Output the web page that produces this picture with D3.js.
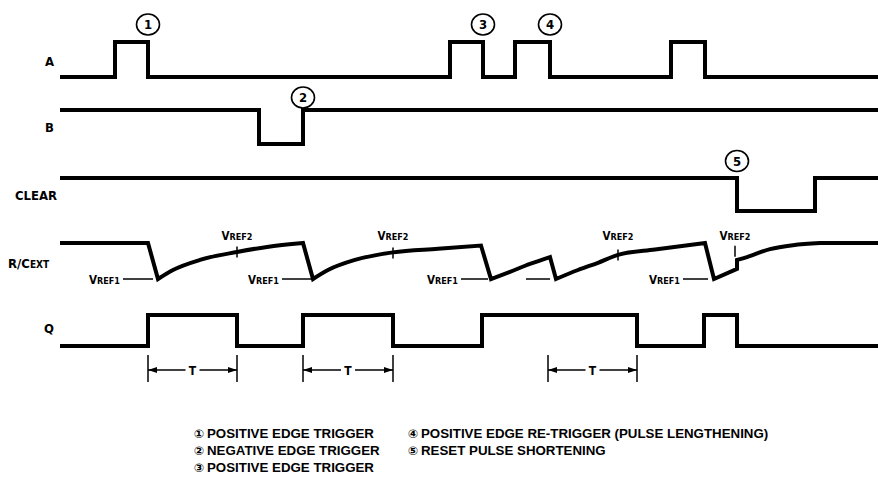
<!DOCTYPE html>
<html>
<head>
<meta charset="utf-8">
<script src="https://cdn.jsdelivr.net/npm/d3@7"></script>
<style>
  body { margin: 0; background: #fff; }
  svg { display: block; }
  .lbl { font-family: "Liberation Sans Narrow", "DejaVu Sans Condensed", sans-serif; font-weight: bold; fill: #000; }
  .leg { font-family: "Liberation Sans", Arial, sans-serif; font-weight: bold; font-size: 13.3px; fill: #000; }
</style>
</head>
<body>
<div id="chart"></div>
<script>
(function() {

  // time axis in arbitrary units, step signals as [time, level]
  const signalA = [[0, 0], [27.5, 1], [44, 0], [195, 1], [211.5, 0], [227.5, 1], [245, 0], [305.5, 1], [322.5, 0], [409, 0]];
  const signalB = [[0, 1], [99.5, 0], [121.5, 1], [409, 1]];
  const signalClear = [[0, 1], [338.5, 0], [377.5, 1], [409, 1]];
  const signalQ = [[0, 0], [44, 1], [88.5, 0], [121.5, 1], [166.5, 0], [211, 1], [288.5, 0], [322, 1], [338.5, 0], [409, 0]];

  // R/Cext voltage, 0 = Vref1 and 1 = idle level; one array per stretch
  const rcSegments = [
    [[0, 1], [44, 1]],
    [[44, 1], [49, 0]],
    [[49, 0], [56.5, 0.25], [70, 0.53], [88.5, 0.75], [103.5, 0.89], [121.5, 1]],
    [[121.5, 1], [126.5, 0]],
    [[126.5, 0], [134, 0.25], [147.5, 0.53], [166.5, 0.74], [189, 0.84], [210.5, 0.93]],
    [[210.5, 0.93], [215.5, 0]],
    [[215.5, 0], [225, 0.2], [235, 0.42], [245, 0.61]],
    [[245, 0.61], [248, 0]],
    [[248, 0], [259, 0.25], [269, 0.45], [279, 0.67], [297.5, 0.82], [322.5, 1]],
    [[322.5, 1], [327, 0]],
    [[327, 0], [338.5, 0.28]],
    [[338.5, 0.28], [338.5, 0.53]],
    [[338.5, 0.53], [343.5, 0.61], [355, 0.83], [366.5, 0.94], [380, 1]],
    [[380, 1], [409, 1]]
  ];

  // Vref1 marker lines [from, to, labelled], Vref2 ticks [time, level]
  const vref1Marks = [[31.5, 46.5, true], [111, 126, true], [200.5, 214, true], [233, 245, false], [311.5, 324, true]];
  const vref2Marks = [[88.5, 0.75], [166.5, 0.72], [279, 0.67], [337.5, 0.77]];

  // pulse width markers [start, end]
  const tMarks = [[44, 88.5], [121.5, 166.5], [244, 288.5]];

  // numbered events [number, signal, time]
  const callouts = [[1, "A", 44], [2, "B", 121.5], [3, "A", 211.5], [4, "A", 245], [5, "CLEAR", 338.5]];

  const legendCol1 = ["POSITIVE EDGE TRIGGER", "NEGATIVE EDGE TRIGGER", "POSITIVE EDGE TRIGGER"];
  const legendCol2 = ["POSITIVE EDGE RE-TRIGGER (PULSE LENGTHENING)", "RESET PULSE SHORTENING"];
  const circled = ["\u2460", "\u2461", "\u2462", "\u2463", "\u2464"];

  const width = 878, height = 482;

  const svg = d3.select("#chart")
    .append("svg")
      .attr("width", width)
      .attr("height", height);

  svg.append("rect").attr("width", width).attr("height", height).attr("fill", "#fff");

  let x = d3.scaleLinear()
      .domain([0, 409])
      .range([60, 878]);

  // one y scale per row
  let rows = {
    A: d3.scaleLinear().domain([0, 1]).range([77, 42]),
    B: d3.scaleLinear().domain([0, 1]).range([144, 110]),
    CLEAR: d3.scaleLinear().domain([0, 1]).range([211, 178]),
    Q: d3.scaleLinear().domain([0, 1]).range([346, 315])
  };
  let yRC = d3.scaleLinear().domain([0, 1]).range([279, 243]);

  function wave(data, y) {
    svg.append("path")
      .attr("d", d3.line().x(d => x(d[0])).y(d => y(d[1])).curve(d3.curveStepAfter)(data))
      .attr("fill", "none")
      .attr("stroke", "#000")
      .attr("stroke-width", 4);
  }

  wave(signalA, rows.A);
  wave(signalB, rows.B);
  wave(signalClear, rows.CLEAR);
  wave(signalQ, rows.Q);

  // R/C: straight drops, smooth charging curves, joined into one path
  let rcLine = d3.line().x(d => x(d[0])).y(d => yRC(d[1])).curve(d3.curveMonotoneX);
  let rcPath = rcSegments.map((seg, i) => {
    let s = rcLine(seg);
    return i ? s.replace(/^M/, "L") : s;
  }).join("");
  svg.append("path")
    .attr("d", rcPath)
    .attr("fill", "none")
    .attr("stroke", "#000")
    .attr("stroke-width", 4)
    .attr("stroke-linejoin", "miter");

  // signal names
  let names = [
    { t: "A", x: 45, y: 66 },
    { t: "B", x: 45, y: 132 },
    { t: "CLEAR", x: 15, y: 200 },
    { t: "Q", x: 44, y: 333 }
  ];
  svg.selectAll(".name")
    .data(names)
    .enter().append("text")
      .attr("class", "lbl")
      .attr("x", d => d.x)
      .attr("y", d => d.y)
      .attr("font-size", 13)
      .text(d => d.t);

  let rcName = svg.append("text").attr("class", "lbl").attr("x", 8).attr("y", 268).attr("font-size", 13);
  rcName.append("tspan").text("R/C");
  rcName.append("tspan").attr("font-size", 10).text("EXT");

  function vrefText(xPos, yPos, num, anchor) {
    let t = svg.append("text")
      .attr("class", "lbl")
      .attr("x", xPos)
      .attr("y", yPos)
      .attr("text-anchor", anchor)
      .attr("font-size", 11.5);
    t.append("tspan").text("V");
    t.append("tspan").attr("font-size", 9).text("REF" + num);
  }

  // Vref1 short lines + labels
  vref1Marks.forEach(m => {
    svg.append("line")
      .attr("x1", x(m[0])).attr("x2", x(m[1]))
      .attr("y1", yRC(0)).attr("y2", yRC(0))
      .attr("stroke", "#000").attr("stroke-width", 1.5);
    if (m[2]) vrefText(x(m[0]) - 3, yRC(0) + 4.5, 1, "end");
  });

  // Vref2 ticks + labels
  vref2Marks.forEach(m => {
    svg.append("line")
      .attr("x1", x(m[0])).attr("x2", x(m[0]))
      .attr("y1", yRC(m[1]) - 5.5).attr("y2", yRC(m[1]) + 5.5)
      .attr("stroke", "#000").attr("stroke-width", 1.5);
    vrefText(x(m[0]), 240, 2, "middle");
  });

  // T pulse width markers
  tMarks.forEach(m => {
    let x0 = x(m[0]), x1 = x(m[1]), mid = (x0 + x1) / 2, yA = 370;
    let g = svg.append("g").attr("stroke", "#000").attr("stroke-width", 1.5);
    g.append("line").attr("x1", x0).attr("x2", x0).attr("y1", 355).attr("y2", 382);
    g.append("line").attr("x1", x1).attr("x2", x1).attr("y1", 355).attr("y2", 382);
    g.append("line").attr("x1", x0).attr("x2", mid - 7).attr("y1", yA).attr("y2", yA);
    g.append("line").attr("x1", mid + 7).attr("x2", x1).attr("y1", yA).attr("y2", yA);
    svg.append("path")
      .attr("d", "M" + x0 + "," + yA + "l9,-3l0,6z M" + x1 + "," + yA + "l-9,-3l0,6z")
      .attr("fill", "#000");
    svg.append("text")
      .attr("class", "lbl")
      .attr("x", mid)
      .attr("y", yA + 4.5)
      .attr("text-anchor", "middle")
      .attr("font-size", 12)
      .text("T");
  });

  // numbered circles above the trigger edges
  let lift = { A: 17.5, B: 12.5, CLEAR: 17 };
  let marks = svg.selectAll(".callout")
    .data(callouts)
    .enter().append("g")
      .attr("transform", d => "translate(" + x(d[2]) + "," + (rows[d[1]](1) - lift[d[1]]) + ")");
  marks.append("ellipse")
    .attr("rx", 11.5).attr("ry", 10.5)
    .attr("fill", "#fff")
    .attr("stroke", "#000")
    .attr("stroke-width", 1.6);
  marks.append("text")
    .attr("class", "lbl")
    .attr("text-anchor", "middle")
    .attr("y", 4.5)
    .attr("font-size", 13)
    .text(d => d[0]);

  // legend
  function legendRow(xPos, yPos, idx, label) {
    svg.append("text")
      .attr("x", xPos)
      .attr("y", yPos)
      .attr("text-anchor", "middle")
      .attr("font-family", "DejaVu Sans, sans-serif")
      .attr("font-weight", "bold")
      .attr("font-size", 12)
      .text(circled[idx]);
    svg.append("text")
      .attr("class", "leg")
      .attr("x", xPos + 8)
      .attr("y", yPos)
      .text(label);
  }
  legendCol1.forEach((s, i) => legendRow(199, 438 + i * 17, i, s));
  legendCol2.forEach((s, i) => legendRow(413, 438 + i * 17, i + 3, s));

})();
</script>
</body>
</html>
